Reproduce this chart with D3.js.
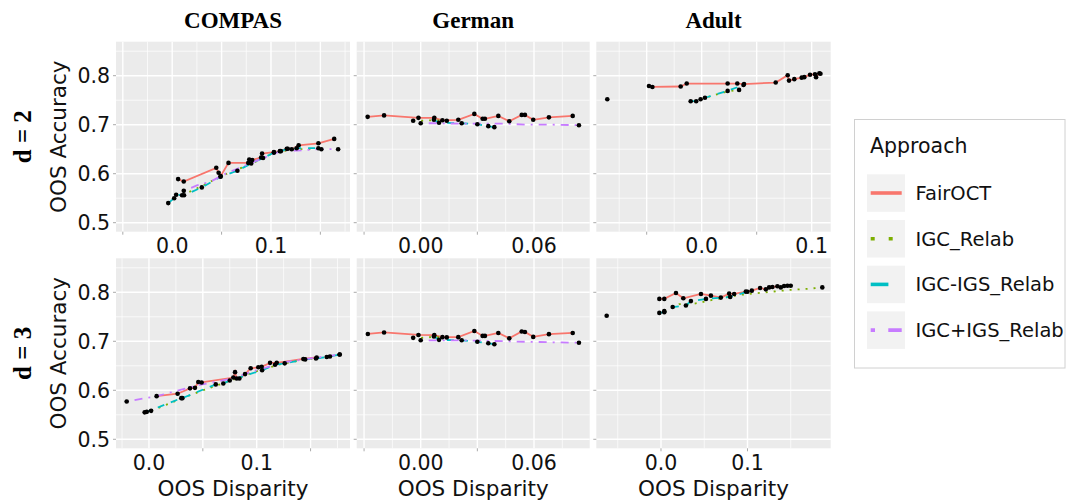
<!DOCTYPE html>
<html>
<head>
<meta charset="utf-8">
<script src="https://cdn.jsdelivr.net/npm/d3@7"></script>
<style>
body{ margin:0; background:#fff; }
svg{ display:block; }
</style>
</head>
<body>
<svg id="chart" width="1066" height="503"></svg>
<script>

/**************************************************************************************/
// data

var datasets = ['COMPAS', 'German', 'Adult'];
var depths = ['d = 2', 'd = 3'];
var approaches = ['FairOCT', 'IGC_Relab', 'IGC-IGS_Relab', 'IGC+IGS_Relab'];
var colors = ['#F8766D', '#7CAE00', '#00BFC4', '#C77CFF'];

var y_ticks = [0.5, 0.6, 0.7, 0.8];
var y_limits = [0.4816, 0.8694];

// one entry per panel, row by row
var x_limits = [[-0.0569, 0.18], [-0.0339, 0.0895], [-0.0958, 0.1173], [-0.0306, 0.1866], [-0.0339, 0.0895], [-0.0748, 0.1962]];
var x_labels = [[0, 0.1], [0, 0.06], [0, 0.1], [0, 0.1], [0, 0.06], [0, 0.1]];
var x_label_fmt = ['.1f', '.2f', '.1f', '.1f', '.2f', '.1f'];
var x_grid_step = [0.025, 0.015, 0.025, 0.025, 0.015, 0.05];
var x_tick_marks = [[-0.05, 0.05, 0.15], [-0.03, 0.03], [-0.05, 0.05], [0.05, 0.15], [-0.03, 0.03], [0, 0.1]];

var compas_d2_fairoct = [[0.006,0.589],[0.0117,0.584],[0.0446,0.612],[0.047,0.602],[0.049,0.595],[0.057,0.622],[0.077,0.622],[0.078,0.629],[0.081,0.628],[0.090,0.633],[0.091,0.641],[0.103,0.644],[0.109,0.646],[0.116,0.651],[0.121,0.650],[0.128,0.658],[0.148,0.662],[0.164,0.671]];
var compas_d2_igc = [[0.010,0.556],[0.025,0.570],[0.052,0.597],[0.082,0.622],[0.103,0.643],[0.126,0.650],[0.151,0.650]];
var compas_d2_igc_igs = [[-0.004,0.540],[0.002,0.550],[0.004,0.557],[0.012,0.556],[0.030,0.572],[0.049,0.594],[0.066,0.606],[0.080,0.621],[0.092,0.632],[0.103,0.643],[0.110,0.646],[0.117,0.651],[0.126,0.652],[0.148,0.652]];
var compas_d2_igc_p_igs = [[0.0117,0.565],[0.025,0.576],[0.039,0.584],[0.055,0.601],[0.079,0.621],[0.096,0.635],[0.112,0.648],[0.126,0.647],[0.148,0.650],[0.168,0.650]];

var german_d2_fairoct = [[-0.0281,0.716],[-0.0194,0.719],[-0.0012,0.714],[0.0072,0.714],[0.0115,0.709],[0.0199,0.710],[0.0284,0.722],[0.0328,0.712],[0.034,0.712],[0.0411,0.718],[0.0469,0.707],[0.0535,0.720],[0.0552,0.720],[0.0596,0.710],[0.0679,0.715],[0.0805,0.718]];
var german_d2_igc = [[-0.004,0.708],[0.0,0.708],[0.007,0.709],[0.0138,0.708]];
var german_d2_igc_igs = [[0.007,0.710],[0.0097,0.704],[0.0217,0.703],[0.030,0.701],[0.0358,0.697],[0.039,0.695]];
var german_d2_igc_p_igs = [[0.0,0.703],[0.0097,0.703],[0.0217,0.702],[0.035,0.702],[0.045,0.702],[0.056,0.700],[0.070,0.700],[0.0838,0.699]];

var adult_d2_fairoct = [[-0.0479,0.779],[-0.0448,0.777],[-0.0191,0.778],[-0.0136,0.784],[0.0236,0.784],[0.0324,0.784],[0.0385,0.783],[0.0673,0.786],[0.0782,0.801],[0.0794,0.790],[0.0842,0.793],[0.0909,0.796],[0.0933,0.797],[0.0985,0.802],[0.103,0.803],[0.104,0.797],[0.107,0.805],[0.108,0.804]];
var adult_d2_igc = [[-0.001,0.752],[0.003,0.755],[0.0236,0.768],[0.034,0.771]];
var adult_d2_igc_igs = [[-0.010,0.748],[-0.005,0.748],[0.003,0.755],[0.0236,0.769],[0.038,0.781]];
var adult_d2_igc_p_igs = [];
var adult_d2_single = [[-0.0858,0.752]];

var compas_d3_fairoct = [[0.0071,0.588],[0.0266,0.593],[0.0381,0.604],[0.0427,0.605],[0.0458,0.617],[0.0489,0.616],[0.0783,0.626],[0.0799,0.637],[0.0814,0.624],[0.0839,0.624],[0.0892,0.633],[0.0944,0.645],[0.1015,0.647],[0.1046,0.648],[0.1124,0.656],[0.1186,0.656],[0.1433,0.664],[0.1557,0.667]];
var compas_d3_igc = [[0.002,0.558],[0.030,0.583],[0.050,0.600],[0.075,0.619],[0.100,0.639],[0.125,0.655],[0.150,0.664],[0.165,0.668]];
var compas_d3_igc_igs = [[-0.004,0.555],[-0.002,0.556],[0.030,0.584],[0.031,0.584],[0.062,0.612],[0.069,0.614],[0.075,0.620],[0.105,0.641],[0.117,0.652],[0.126,0.655],[0.145,0.663],[0.155,0.665],[0.168,0.669],[0.177,0.673]];
var compas_d3_igc_p_igs = [[-0.0207,0.577],[0.0071,0.588],[0.021,0.596],[0.047,0.611],[0.075,0.623],[0.100,0.641],[0.125,0.657],[0.150,0.665],[0.177,0.673]];

var german_d3_fairoct = [[-0.028,0.715],[-0.0194,0.718],[-0.0012,0.713],[0.0072,0.7125],[0.0115,0.7085],[0.0199,0.7085],[0.0284,0.721],[0.0328,0.711],[0.034,0.711],[0.0411,0.717],[0.0469,0.706],[0.0535,0.720],[0.0552,0.719],[0.0596,0.709],[0.0679,0.7146],[0.0805,0.717]];
var german_d3_igc = [[-0.004,0.707],[0.0,0.707],[0.007,0.709],[0.0138,0.708]];
var german_d3_igc_igs = [[0.007,0.710],[0.0097,0.703],[0.0217,0.702],[0.030,0.699],[0.0358,0.696],[0.039,0.694]];
var german_d3_igc_p_igs = [[0.0,0.702],[0.0097,0.702],[0.0217,0.702],[0.035,0.701],[0.045,0.700],[0.056,0.699],[0.070,0.698],[0.0838,0.697]];

var adult_d3_fairoct = [[-0.0019,0.7865],[0.0038,0.7865],[0.0173,0.7986],[0.0258,0.7878],[0.0462,0.7966],[0.0577,0.7932],[0.0692,0.7892],[0.0788,0.7973],[0.0846,0.7966],[0.0981,0.8014],[0.105,0.8034],[0.1146,0.8088],[0.1212,0.806],[0.125,0.810],[0.1288,0.8108],[0.1346,0.8122],[0.1385,0.810],[0.1423,0.8128],[0.1462,0.8135],[0.15,0.8135]];
var adult_d3_igc = [[0.0038,0.7615],[0.021,0.7757],[0.0365,0.776],[0.054,0.7824],[0.071,0.7885],[0.0904,0.7946],[0.1096,0.798],[0.1288,0.8014],[0.148,0.8047],[0.1673,0.8068],[0.1865,0.810]];
var adult_d3_igc_igs = [[-0.0019,0.758],[0.0038,0.7595],[0.0135,0.770],[0.0288,0.773],[0.0346,0.782],[0.052,0.7865],[0.080,0.7905],[0.100,0.801]];
var adult_d3_igc_p_igs = [];
var adult_d3_single = [[-0.0628,0.752]];

var panel_series = [
    [compas_d2_fairoct, compas_d2_igc, compas_d2_igc_igs, compas_d2_igc_p_igs],
    [german_d2_fairoct, german_d2_igc, german_d2_igc_igs, german_d2_igc_p_igs],
    [adult_d2_fairoct, adult_d2_igc, adult_d2_igc_igs, adult_d2_igc_p_igs],
    [compas_d3_fairoct, compas_d3_igc, compas_d3_igc_igs, compas_d3_igc_p_igs],
    [german_d3_fairoct, german_d3_igc, german_d3_igc_igs, german_d3_igc_p_igs],
    [adult_d3_fairoct, adult_d3_igc, adult_d3_igc_igs, adult_d3_igc_p_igs]
];
var panel_single = [[], [], adult_d2_single, [], [], adult_d3_single];

// which series get a dot on every vertex (the others only at their ends)
var all_vertices = [true, false, true, false];

/**************************************************************************************/
// layout

var col_x = [116, 356.7, 596.3];
var col_w = [234, 233, 234.4];
var row_y = [41.7, 258.3];
var row_h = 190;

var sans = "'DejaVu Sans', sans-serif";
var serif = "'Liberation Serif', 'Times New Roman', serif";

var dash_panel = [null, '2,6', '7,7', '2,6,8,6'];
var dash_legend = [null, '4,14', '17.7,13.3', '4.3,13.3,17.7,13.3'];

var svg = d3.select('#chart');

/**************************************************************************************/

function draw_panel(p){
    var r = Math.floor(p/3), c = p%3;
    var x0 = col_x[c], y0 = row_y[r], w = col_w[c], h = row_h;

    var x = d3.scaleLinear().domain(x_limits[p]).range([x0, x0+w]);
    var y = d3.scaleLinear().domain(y_limits).range([y0+h, y0]);

    var g = svg.append('g');
    g.append('rect').attr('x', x0).attr('y', y0).attr('width', w).attr('height', h).style('fill', '#EBEBEB');

    // horizontal grid
    for(var k=Math.ceil(y_limits[0]/0.05); k<=Math.floor(y_limits[1]/0.05); k++){
        var v = k*0.05;
        g.append('line')
            .attr('x1', x0).attr('x2', x0+w).attr('y1', y(v)).attr('y2', y(v))
            .style('stroke', '#fff').style('stroke-width', (k%2==0) ? 1.4 : 0.7);
    }
    // vertical grid
    var step = x_grid_step[p];
    for(var k=Math.ceil(x_limits[p][0]/step); k<=Math.floor(x_limits[p][1]/step); k++){
        var v = k*step;
        g.append('line')
            .attr('x1', x(v)).attr('x2', x(v)).attr('y1', y0).attr('y2', y0+h)
            .style('stroke', '#fff').style('stroke-width', (k%2==0) ? 1.4 : 0.7);
    }

    // tick marks
    y_ticks.forEach(function(v){
        g.append('line').attr('x1', x0-3).attr('x2', x0).attr('y1', y(v)).attr('y2', y(v))
            .style('stroke', '#aaa').style('stroke-width', 1);
    });
    x_tick_marks[p].forEach(function(v){
        g.append('line').attr('x1', x(v)).attr('x2', x(v)).attr('y1', y0+h).attr('y2', y0+h+3)
            .style('stroke', '#aaa').style('stroke-width', 1);
    });

    // tick labels
    var fmt = d3.format(x_label_fmt[p]);
    x_labels[p].forEach(function(v){
        g.append('text').attr('x', x(v)).attr('y', y0+h+21.5)
            .attr('text-anchor', 'middle')
            .style('font-family', sans).style('font-size', '20.5px').style('fill', '#111')
            .text(fmt(v));
    });
    if(c == 0){
        y_ticks.forEach(function(v){
            g.append('text').attr('x', x0-6).attr('y', y(v)).attr('dy', '0.36em')
                .attr('text-anchor', 'end')
                .style('font-family', sans).style('font-size', '20.5px').style('fill', '#111')
                .text(d3.format('.1f')(v));
        });
    }

    // lines
    var line = d3.line().x(function(d){ return x(d[0]); }).y(function(d){ return y(d[1]); });
    var clip_id = 'clip' + p;
    g.append('clipPath').attr('id', clip_id).append('rect')
        .attr('x', x0).attr('y', y0).attr('width', w).attr('height', h);
    var lg = g.append('g').attr('clip-path', 'url(#' + clip_id + ')');

    panel_series[p].forEach(function(s, i){
        if(s.length < 2){ return }
        lg.append('path').attr('d', line(s))
            .style('fill', 'none').style('stroke', colors[i]).style('stroke-width', 1.8)
            .style('stroke-dasharray', dash_panel[i]);
    });

    // points
    var pts = [];
    panel_series[p].forEach(function(s, i){
        if(s.length == 0){ return }
        if(all_vertices[i]){ pts = pts.concat(s); }
        else { pts.push(s[0]); pts.push(s[s.length-1]); }
    });
    pts = pts.concat(panel_single[p]);
    lg.selectAll('circle.pt').data(pts).enter().append('circle')
        .attr('cx', function(d){ return x(d[0]); })
        .attr('cy', function(d){ return y(d[1]); })
        .attr('r', 2.3)
        .style('fill', '#000');
}

for(var p=0; p<6; p++){ draw_panel(p); }

/**************************************************************************************/
// strips, axis titles

datasets.forEach(function(name, c){
    svg.append('text').attr('x', col_x[c] + col_w[c]/2).attr('y', 28.3)
        .attr('text-anchor', 'middle')
        .style('font-family', serif).style('font-weight', 'bold').style('font-size', '23px')
        .text(name);
    svg.append('text').attr('x', col_x[c] + col_w[c]/2).attr('y', 496)
        .attr('text-anchor', 'middle')
        .style('font-family', sans).style('font-size', '21.5px').style('fill', '#111')
        .text('OOS Disparity');
});

depths.forEach(function(name, r){
    var cy = row_y[r] + row_h/2;
    svg.append('text').attr('transform', 'translate(22,' + cy + ') rotate(-90)')
        .attr('text-anchor', 'middle').attr('dy', '0.35em')
        .style('font-family', serif).style('font-weight', 'bold').style('font-size', '25px')
        .text(name);
    svg.append('text').attr('transform', 'translate(58,' + cy + ') rotate(-90)')
        .attr('text-anchor', 'middle').attr('dy', '0.35em')
        .style('font-family', sans).style('font-size', '21.5px').style('fill', '#111')
        .text('OOS Accuracy');
});

/**************************************************************************************/
// legend

var legend = svg.append('g');
legend.append('rect').attr('x', 854.5).attr('y', 119.5).attr('width', 210.5).attr('height', 248.5)
    .style('fill', '#fff').style('stroke', '#d0d0d0').style('stroke-width', 1);
legend.append('text').attr('x', 870).attr('y', 152.5)
    .style('font-family', sans).style('font-size', '20.5px').style('fill', '#111')
    .text('Approach');

approaches.forEach(function(name, i){
    var cy = 193 + i*45.7;
    legend.append('rect').attr('x', 867).attr('y', cy-18.7).attr('width', 38).attr('height', 37.5)
        .style('fill', '#F2F2F2');
    legend.append('line').attr('x1', 870.7).attr('x2', 901.7).attr('y1', cy).attr('y2', cy)
        .style('stroke', colors[i]).style('stroke-width', 3.6)
        .style('stroke-dasharray', dash_legend[i]);
    legend.append('text').attr('x', 915.5).attr('y', cy).attr('dy', '0.36em')
        .style('font-family', sans).style('font-size', '19.5px').style('fill', '#111')
        .text(name);
});

</script>
</body>
</html>
